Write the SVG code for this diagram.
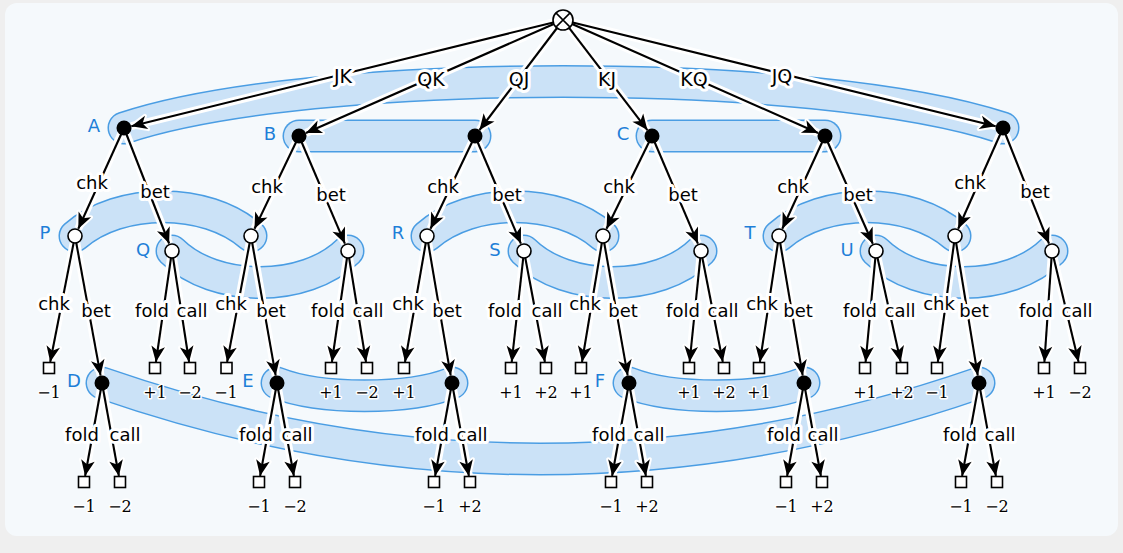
<svg xmlns="http://www.w3.org/2000/svg" width="1123" height="553" viewBox="0 0 1123 553">
<style>
.bo{fill:none;stroke:#4a9de3;stroke-width:33;stroke-linecap:round}
.bi{fill:none;stroke:#cbe2f7;stroke-width:30;stroke-linecap:round}
.h{fill:none;stroke:#fff;stroke-width:8;marker-end:url(#aw)}
.e{fill:none;stroke:#000;stroke-width:2.1;marker-end:url(#ab)}
.el{font-family:"DejaVu Sans",sans-serif;font-size:18px;fill:#000;stroke:#fff;stroke-width:6;stroke-linejoin:round;paint-order:stroke;text-anchor:middle}
.rl{font-size:19px}
.po{font-family:"DejaVu Serif",serif;font-size:16px;fill:#000;stroke:#fff;stroke-width:3;stroke-linejoin:round;paint-order:stroke;text-anchor:middle}
.is{font-family:"DejaVu Sans",sans-serif;font-size:18px;fill:#1e7fd8;text-anchor:middle}
.dot{fill:#000}
.wc{fill:#fff;stroke:#000;stroke-width:1.6}
.bx{fill:#fff;stroke:#000;stroke-width:1.6}
</style>
<defs>
<marker id="ab" markerUnits="userSpaceOnUse" orient="auto" refX="0" refY="0" markerWidth="20" markerHeight="20" viewBox="-17 -9 19 18" overflow="visible">
<path d="M0,0 L-15,-6.5 L-11,0 L-15,6.5 Z" fill="#000"/>
</marker>
<marker id="aw" markerUnits="userSpaceOnUse" orient="auto" refX="0" refY="0" markerWidth="24" markerHeight="24" viewBox="-19 -11 23 22" overflow="visible">
<path d="M0,0 L-15,-6.5 L-11,0 L-15,6.5 Z" fill="#fff" stroke="#fff" stroke-width="4" stroke-linejoin="round"/>
</marker>
</defs>
<rect x="0" y="0" width="1123" height="553" fill="#efefef"/>
<rect x="5" y="3" width="1113" height="533" rx="12" fill="#f5f9fc"/>

<g id="infosets">
<g id="set-A"><path class="bo" d="M124,128 C310,66 816,66 1003,128"/><path class="bi" d="M124,128 C310,66 816,66 1003,128"/><text class="is" x="94" y="132">A</text></g>
<g id="set-B"><path class="bo" d="M299,136 L475,136"/><path class="bi" d="M299,136 L475,136"/><text class="is" x="270" y="140">B</text></g>
<g id="set-C"><path class="bo" d="M652,136 L825,136"/><path class="bi" d="M652,136 L825,136"/><text class="is" x="623" y="140">C</text></g>
<g id="set-P"><path class="bo" d="M75,236 C120,197 206,197 251,236"/><path class="bi" d="M75,236 C120,197 206,197 251,236"/><text class="is" x="45" y="239">P</text></g>
<g id="set-Q"><path class="bo" d="M172,251 C215,293 305,293 348,251"/><path class="bi" d="M172,251 C215,293 305,293 348,251"/><text class="is" x="143" y="256">Q</text></g>
<g id="set-R"><path class="bo" d="M427,236 C472,197 558,197 603,236"/><path class="bi" d="M427,236 C472,197 558,197 603,236"/><text class="is" x="398" y="239">R</text></g>
<g id="set-S"><path class="bo" d="M524,251 C567,293 658,293 701,251"/><path class="bi" d="M524,251 C567,293 658,293 701,251"/><text class="is" x="495" y="256">S</text></g>
<g id="set-T"><path class="bo" d="M779,236 C824,197 910,197 955,236"/><path class="bi" d="M779,236 C824,197 910,197 955,236"/><text class="is" x="750" y="239">T</text></g>
<g id="set-U"><path class="bo" d="M876,251 C919,293 1009,293 1052,251"/><path class="bi" d="M876,251 C919,293 1009,293 1052,251"/><text class="is" x="847" y="256">U</text></g>
<g id="set-D"><path class="bo" d="M102,383 Q540,535 979,383"/><path class="bi" d="M102,383 Q540,535 979,383"/><text class="is" x="74" y="387">D</text></g>
<g id="set-E"><path class="bo" d="M277,383 C320,400 409,400 452,383"/><path class="bi" d="M277,383 C320,400 409,400 452,383"/><text class="is" x="248" y="387">E</text></g>
<g id="set-F"><path class="bo" d="M629,383 C672,400 761,400 804,383"/><path class="bi" d="M629,383 C672,400 761,400 804,383"/><text class="is" x="600" y="387">F</text></g>
</g>

<g id="connectors">
<g id="halos">
<path class="h" d="M553.3,22.4 L131.3,126.2"/>
<path class="h" d="M553.8,24.0 L305.9,133.0"/>
<path class="h" d="M557.0,28.0 L479.5,130.0"/>
<path class="h" d="M569.1,27.9 L647.4,130.1"/>
<path class="h" d="M572.1,24.0 L818.1,133.0"/>
<path class="h" d="M572.7,22.4 L995.7,126.2"/>
<path class="h" d="M124,128 L78.3,228.7"/>
<path class="h" d="M124,128 L169.1,243.5"/>
<path class="h" d="M299,136 L254.5,228.8"/>
<path class="h" d="M299,136 L344.9,243.6"/>
<path class="h" d="M475,136 L430.5,228.8"/>
<path class="h" d="M475,136 L520.9,243.6"/>
<path class="h" d="M652,136 L606.5,228.8"/>
<path class="h" d="M652,136 L697.9,243.6"/>
<path class="h" d="M825,136 L782.3,228.7"/>
<path class="h" d="M825,136 L872.8,243.7"/>
<path class="h" d="M1003,128 L958.2,228.7"/>
<path class="h" d="M1003,128 L1049.0,243.6"/>
<path class="h" d="M75,236 L50.2,362"/>
<path class="h" d="M75,236 L100.6,375.6"/>
<path class="h" d="M172,251 L155.9,362"/>
<path class="h" d="M172,251 L189.1,362"/>
<path class="h" d="M251,236 L227.1,362"/>
<path class="h" d="M251,236 L275.7,375.6"/>
<path class="h" d="M348,251 L331.9,362"/>
<path class="h" d="M348,251 L366.0,362"/>
<path class="h" d="M427,236 L405.0,362"/>
<path class="h" d="M427,236 L450.7,375.6"/>
<path class="h" d="M524,251 L511.7,362"/>
<path class="h" d="M524,251 L544.9,362"/>
<path class="h" d="M603,236 L582.0,362"/>
<path class="h" d="M603,236 L627.7,375.6"/>
<path class="h" d="M701,251 L689.6,362"/>
<path class="h" d="M701,251 L722.8,362"/>
<path class="h" d="M779,236 L759.9,362"/>
<path class="h" d="M779,236 L802.7,375.6"/>
<path class="h" d="M876,251 L865.6,362"/>
<path class="h" d="M876,251 L900.7,362"/>
<path class="h" d="M955,236 L937.8,362"/>
<path class="h" d="M955,236 L977.8,375.6"/>
<path class="h" d="M1052,251 L1044.4,362"/>
<path class="h" d="M1052,251 L1078.6,362"/>
<path class="h" d="M102,383 L85.1,476"/>
<path class="h" d="M102,383 L118.9,476"/>
<path class="h" d="M277,383 L260.1,476"/>
<path class="h" d="M277,383 L293.9,476"/>
<path class="h" d="M452,383 L435.1,476"/>
<path class="h" d="M452,383 L468.9,476"/>
<path class="h" d="M629,383 L612.1,476"/>
<path class="h" d="M629,383 L645.9,476"/>
<path class="h" d="M804,383 L787.1,476"/>
<path class="h" d="M804,383 L820.9,476"/>
<path class="h" d="M979,383 L962.1,476"/>
<path class="h" d="M979,383 L995.9,476"/>
</g>
<g id="edges">
<path class="e" d="M553.3,22.4 L131.3,126.2"/>
<path class="e" d="M553.8,24.0 L305.9,133.0"/>
<path class="e" d="M557.0,28.0 L479.5,130.0"/>
<path class="e" d="M569.1,27.9 L647.4,130.1"/>
<path class="e" d="M572.1,24.0 L818.1,133.0"/>
<path class="e" d="M572.7,22.4 L995.7,126.2"/>
<path class="e" d="M124,128 L78.3,228.7"/>
<path class="e" d="M124,128 L169.1,243.5"/>
<path class="e" d="M299,136 L254.5,228.8"/>
<path class="e" d="M299,136 L344.9,243.6"/>
<path class="e" d="M475,136 L430.5,228.8"/>
<path class="e" d="M475,136 L520.9,243.6"/>
<path class="e" d="M652,136 L606.5,228.8"/>
<path class="e" d="M652,136 L697.9,243.6"/>
<path class="e" d="M825,136 L782.3,228.7"/>
<path class="e" d="M825,136 L872.8,243.7"/>
<path class="e" d="M1003,128 L958.2,228.7"/>
<path class="e" d="M1003,128 L1049.0,243.6"/>
<path class="e" d="M75,236 L50.2,362"/>
<path class="e" d="M75,236 L100.6,375.6"/>
<path class="e" d="M172,251 L155.9,362"/>
<path class="e" d="M172,251 L189.1,362"/>
<path class="e" d="M251,236 L227.1,362"/>
<path class="e" d="M251,236 L275.7,375.6"/>
<path class="e" d="M348,251 L331.9,362"/>
<path class="e" d="M348,251 L366.0,362"/>
<path class="e" d="M427,236 L405.0,362"/>
<path class="e" d="M427,236 L450.7,375.6"/>
<path class="e" d="M524,251 L511.7,362"/>
<path class="e" d="M524,251 L544.9,362"/>
<path class="e" d="M603,236 L582.0,362"/>
<path class="e" d="M603,236 L627.7,375.6"/>
<path class="e" d="M701,251 L689.6,362"/>
<path class="e" d="M701,251 L722.8,362"/>
<path class="e" d="M779,236 L759.9,362"/>
<path class="e" d="M779,236 L802.7,375.6"/>
<path class="e" d="M876,251 L865.6,362"/>
<path class="e" d="M876,251 L900.7,362"/>
<path class="e" d="M955,236 L937.8,362"/>
<path class="e" d="M955,236 L977.8,375.6"/>
<path class="e" d="M1052,251 L1044.4,362"/>
<path class="e" d="M1052,251 L1078.6,362"/>
<path class="e" d="M102,383 L85.1,476"/>
<path class="e" d="M102,383 L118.9,476"/>
<path class="e" d="M277,383 L260.1,476"/>
<path class="e" d="M277,383 L293.9,476"/>
<path class="e" d="M452,383 L435.1,476"/>
<path class="e" d="M452,383 L468.9,476"/>
<path class="e" d="M629,383 L612.1,476"/>
<path class="e" d="M629,383 L645.9,476"/>
<path class="e" d="M804,383 L787.1,476"/>
<path class="e" d="M804,383 L820.9,476"/>
<path class="e" d="M979,383 L962.1,476"/>
<path class="e" d="M979,383 L995.9,476"/>
</g>
<g id="edge-labels">
<text class="el rl" x="343" y="83">JK</text>
<text class="el rl" x="431" y="86">QK</text>
<text class="el rl" x="519" y="86">QJ</text>
<text class="el rl" x="607" y="86">KJ</text>
<text class="el rl" x="694" y="86">KQ</text>
<text class="el rl" x="782" y="83">JQ</text>
<text class="el" x="92" y="189">chk</text><text class="el" x="155" y="198">bet</text>
<text class="el" x="267" y="193">chk</text><text class="el" x="331" y="201">bet</text>
<text class="el" x="443" y="193">chk</text><text class="el" x="507" y="201">bet</text>
<text class="el" x="619" y="193">chk</text><text class="el" x="683" y="201">bet</text>
<text class="el" x="793" y="193">chk</text><text class="el" x="858" y="201">bet</text>
<text class="el" x="970" y="189">chk</text><text class="el" x="1035" y="198">bet</text>
<text class="el" x="54" y="310">chk</text><text class="el" x="96" y="317">bet</text>
<text class="el" x="152" y="317">fold</text><text class="el" x="192" y="317">call</text>
<text class="el" x="231" y="310">chk</text><text class="el" x="271" y="317">bet</text>
<text class="el" x="328" y="317">fold</text><text class="el" x="368" y="317">call</text>
<text class="el" x="408" y="310">chk</text><text class="el" x="447" y="317">bet</text>
<text class="el" x="505" y="317">fold</text><text class="el" x="547" y="317">call</text>
<text class="el" x="585" y="310">chk</text><text class="el" x="623" y="317">bet</text>
<text class="el" x="683" y="317">fold</text><text class="el" x="723" y="317">call</text>
<text class="el" x="762" y="310">chk</text><text class="el" x="798" y="317">bet</text>
<text class="el" x="860" y="317">fold</text><text class="el" x="900" y="317">call</text>
<text class="el" x="939" y="310">chk</text><text class="el" x="974" y="317">bet</text>
<text class="el" x="1036" y="317">fold</text><text class="el" x="1077" y="317">call</text>
<text class="el" x="82" y="441">fold</text><text class="el" x="125" y="441">call</text>
<text class="el" x="256" y="441">fold</text><text class="el" x="297" y="441">call</text>
<text class="el" x="432" y="441">fold</text><text class="el" x="472" y="441">call</text>
<text class="el" x="609" y="441">fold</text><text class="el" x="649" y="441">call</text>
<text class="el" x="784" y="441">fold</text><text class="el" x="823" y="441">call</text>
<text class="el" x="960" y="441">fold</text><text class="el" x="1000" y="441">call</text>
</g>
</g>

<g id="nodes">
<g id="root"><circle cx="563" cy="20" r="10" class="wc"/><path d="M555.9,12.9 L570.1,27.1 M570.1,12.9 L555.9,27.1" stroke="#000" stroke-width="1.5"/></g>
<g id="n-JK"><circle cx="124" cy="128" r="7.5" class="dot"/></g>
<g id="n-QK"><circle cx="299" cy="136" r="7.5" class="dot"/></g>
<g id="n-QJ"><circle cx="475" cy="136" r="7.5" class="dot"/></g>
<g id="n-KJ"><circle cx="652" cy="136" r="7.5" class="dot"/></g>
<g id="n-KQ"><circle cx="825" cy="136" r="7.5" class="dot"/></g>
<g id="n-JQ"><circle cx="1003" cy="128" r="7.5" class="dot"/></g>
<g id="n-JK-c"><circle cx="75" cy="236" r="7" class="wc"/></g>
<g id="n-JK-b"><circle cx="172" cy="251" r="7" class="wc"/></g>
<g id="n-QK-c"><circle cx="251" cy="236" r="7" class="wc"/></g>
<g id="n-QK-b"><circle cx="348" cy="251" r="7" class="wc"/></g>
<g id="n-QJ-c"><circle cx="427" cy="236" r="7" class="wc"/></g>
<g id="n-QJ-b"><circle cx="524" cy="251" r="7" class="wc"/></g>
<g id="n-KJ-c"><circle cx="603" cy="236" r="7" class="wc"/></g>
<g id="n-KJ-b"><circle cx="701" cy="251" r="7" class="wc"/></g>
<g id="n-KQ-c"><circle cx="779" cy="236" r="7" class="wc"/></g>
<g id="n-KQ-b"><circle cx="876" cy="251" r="7" class="wc"/></g>
<g id="n-JQ-c"><circle cx="955" cy="236" r="7" class="wc"/></g>
<g id="n-JQ-b"><circle cx="1052" cy="251" r="7" class="wc"/></g>
<g id="n-JK-cb"><circle cx="102" cy="383" r="7.5" class="dot"/></g>
<g id="n-QK-cb"><circle cx="277" cy="383" r="7.5" class="dot"/></g>
<g id="n-QJ-cb"><circle cx="452" cy="383" r="7.5" class="dot"/></g>
<g id="n-KJ-cb"><circle cx="629" cy="383" r="7.5" class="dot"/></g>
<g id="n-KQ-cb"><circle cx="804" cy="383" r="7.5" class="dot"/></g>
<g id="n-JQ-cb"><circle cx="979" cy="383" r="7.5" class="dot"/></g>
<g id="leaves-3">
<rect class="bx" x="43.5" y="362.5" width="11" height="11"/><text class="po" x="49" y="398">−1</text>
<rect class="bx" x="149.5" y="362.5" width="11" height="11"/><text class="po" x="155" y="398">+1</text>
<rect class="bx" x="184.5" y="362.5" width="11" height="11"/><text class="po" x="190" y="398">−2</text>
<rect class="bx" x="221" y="362.5" width="11" height="11"/><text class="po" x="226" y="398">−1</text>
<rect class="bx" x="325.5" y="362.5" width="11" height="11"/><text class="po" x="331" y="398">+1</text>
<rect class="bx" x="361.5" y="362.5" width="11" height="11"/><text class="po" x="367" y="398">−2</text>
<rect class="bx" x="398.5" y="362.5" width="11" height="11"/><text class="po" x="404" y="398">+1</text>
<rect class="bx" x="505.5" y="362.5" width="11" height="11"/><text class="po" x="511" y="398">+1</text>
<rect class="bx" x="540.5" y="362.5" width="11" height="11"/><text class="po" x="546" y="398">+2</text>
<rect class="bx" x="575.5" y="362.5" width="11" height="11"/><text class="po" x="581" y="398">+1</text>
<rect class="bx" x="683.5" y="362.5" width="11" height="11"/><text class="po" x="689" y="398">+1</text>
<rect class="bx" x="718.5" y="362.5" width="11" height="11"/><text class="po" x="724" y="398">+2</text>
<rect class="bx" x="753.5" y="362.5" width="11" height="11"/><text class="po" x="759" y="398">+1</text>
<rect class="bx" x="859.5" y="362.5" width="11" height="11"/><text class="po" x="865" y="398">+1</text>
<rect class="bx" x="896.5" y="362.5" width="11" height="11"/><text class="po" x="902" y="398">+2</text>
<rect class="bx" x="931.5" y="362.5" width="11" height="11"/><text class="po" x="937" y="398">−1</text>
<rect class="bx" x="1038.5" y="362.5" width="11" height="11"/><text class="po" x="1044" y="398">+1</text>
<rect class="bx" x="1074.5" y="362.5" width="11" height="11"/><text class="po" x="1080" y="398">−2</text>
</g>
<g id="leaves-4">
<rect class="bx" x="78.5" y="476.5" width="11" height="11"/><text class="po" x="84" y="512">−1</text>
<rect class="bx" x="114.5" y="476.5" width="11" height="11"/><text class="po" x="120" y="512">−2</text>
<rect class="bx" x="253.5" y="476.5" width="11" height="11"/><text class="po" x="259" y="512">−1</text>
<rect class="bx" x="289.5" y="476.5" width="11" height="11"/><text class="po" x="295" y="512">−2</text>
<rect class="bx" x="428.5" y="476.5" width="11" height="11"/><text class="po" x="434" y="512">−1</text>
<rect class="bx" x="464.5" y="476.5" width="11" height="11"/><text class="po" x="470" y="512">+2</text>
<rect class="bx" x="605.5" y="476.5" width="11" height="11"/><text class="po" x="611" y="512">−1</text>
<rect class="bx" x="641.5" y="476.5" width="11" height="11"/><text class="po" x="647" y="512">+2</text>
<rect class="bx" x="780.5" y="476.5" width="11" height="11"/><text class="po" x="786" y="512">−1</text>
<rect class="bx" x="816.5" y="476.5" width="11" height="11"/><text class="po" x="822" y="512">+2</text>
<rect class="bx" x="955.5" y="476.5" width="11" height="11"/><text class="po" x="961" y="512">−1</text>
<rect class="bx" x="991.5" y="476.5" width="11" height="11"/><text class="po" x="997" y="512">−2</text>
</g>
</g>
</svg>
